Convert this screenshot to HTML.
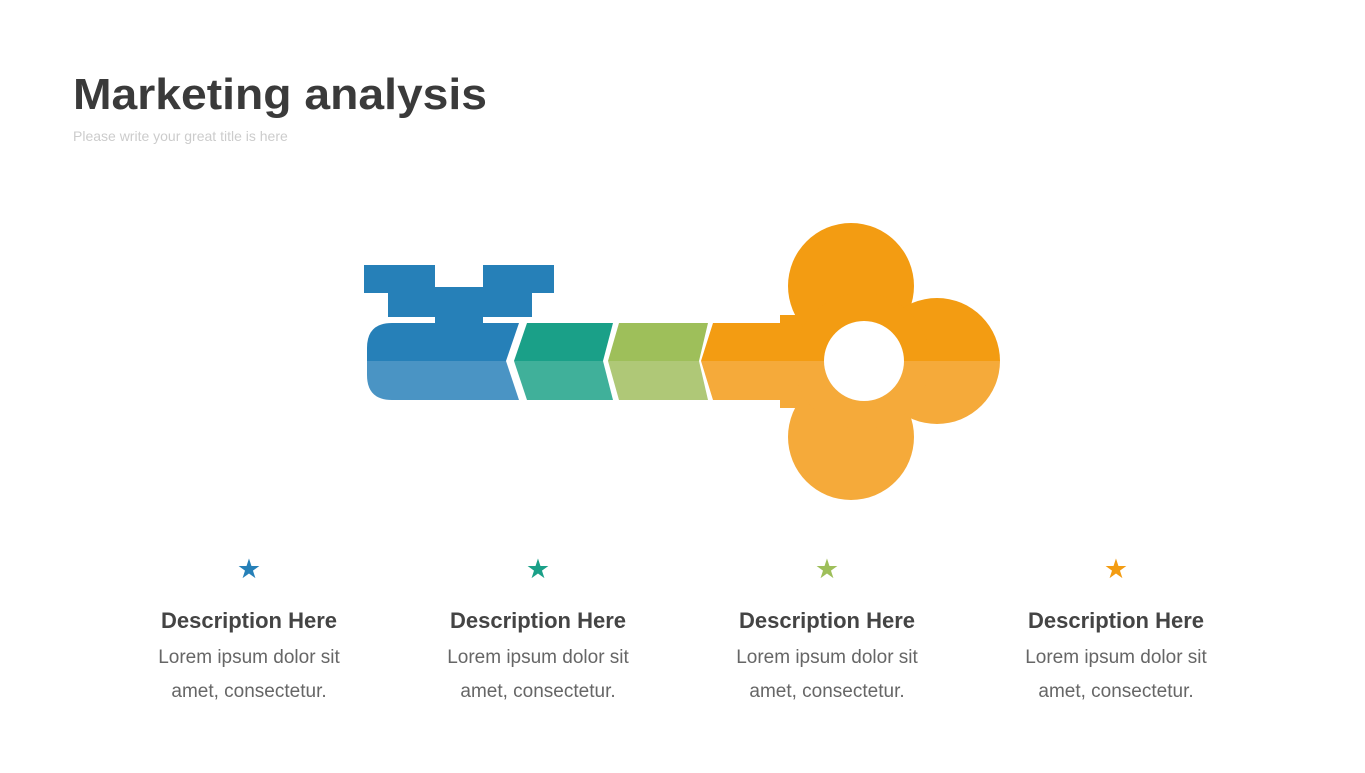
<!DOCTYPE html>
<html><head><meta charset="utf-8"><style>
html,body{margin:0;padding:0;background:#fff;}
body{width:1365px;height:768px;overflow:hidden;font-family:"Liberation Sans",sans-serif;}
</style></head><body>
<svg width="1365" height="768" viewBox="0 0 1365 768" xmlns="http://www.w3.org/2000/svg">
<text x="73" y="109" font-family="Liberation Sans" font-weight="bold" font-size="44" fill="#3a3a3a" textLength="414" lengthAdjust="spacingAndGlyphs">Marketing analysis</text>
<text x="73" y="141" font-family="Liberation Sans" font-size="14" fill="#cccccc">Please write your great title is here</text>
<defs>
<clipPath id="top"><rect x="0" y="0" width="1365" height="361"/></clipPath>
<clipPath id="bot"><rect x="0" y="361" width="1365" height="400"/></clipPath>
</defs>
<path d="M364 265 H435 V287 H483 V265 H554 V293 H532 V317 H483 V323 H435 V317 H388 V293 H364 Z" fill="#2680b8"/>
<path d="M392 323 H519 L506 361 H367 V348 Q367 323 392 323 Z" fill="#2680b8"/>
<path d="M367 361 H506 L519 400 H392 Q367 400 367 375 Z" fill="#4a94c4"/>
<path d="M527 323 H613 L603 361 H514 Z" fill="#1aa088"/>
<path d="M514 361 H603 L613 400 H527 Z" fill="#40b09a"/>
<path d="M619 323 H708 L699 361 H608 Z" fill="#9ebf5a"/>
<path d="M608 361 H699 L708 400 H619 Z" fill="#afc877"/>
<g clip-path="url(#top)" fill="#f39c12">
<path d="M713 323 H780 V315 H864 V408 H780 V400 H713 L701 361 Z"/>
<circle cx="851" cy="286" r="63"/>
<circle cx="851" cy="437" r="63"/>
<circle cx="937" cy="361" r="63"/>
<circle cx="862" cy="361" r="68"/>
</g>
<g clip-path="url(#bot)" fill="#f5aa3a">
<path d="M713 323 H780 V315 H864 V408 H780 V400 H713 L701 361 Z"/>
<circle cx="851" cy="286" r="63"/>
<circle cx="851" cy="437" r="63"/>
<circle cx="937" cy="361" r="63"/>
<circle cx="862" cy="361" r="68"/>
</g>
<circle cx="864" cy="361" r="40" fill="#fff"/>
<g font-family="Liberation Sans" text-anchor="middle">
<text x="249" y="578" font-size="27" fill="#2680b8">★</text>
<text x="538" y="578" font-size="27" fill="#1aa088">★</text>
<text x="827" y="578" font-size="27" fill="#9ebf5a">★</text>
<text x="1116" y="578" font-size="27" fill="#f39c12">★</text>
<g font-size="22" font-weight="bold" fill="#444">
<text x="249" y="628">Description Here</text>
<text x="538" y="628">Description Here</text>
<text x="827" y="628">Description Here</text>
<text x="1116" y="628">Description Here</text>
</g>
<g font-size="19" fill="#666">
<text x="249" y="663">Lorem ipsum dolor sit</text>
<text x="249" y="697">amet, consectetur.</text>
<text x="538" y="663">Lorem ipsum dolor sit</text>
<text x="538" y="697">amet, consectetur.</text>
<text x="827" y="663">Lorem ipsum dolor sit</text>
<text x="827" y="697">amet, consectetur.</text>
<text x="1116" y="663">Lorem ipsum dolor sit</text>
<text x="1116" y="697">amet, consectetur.</text>
</g>
</g>
</svg>
</body></html>
